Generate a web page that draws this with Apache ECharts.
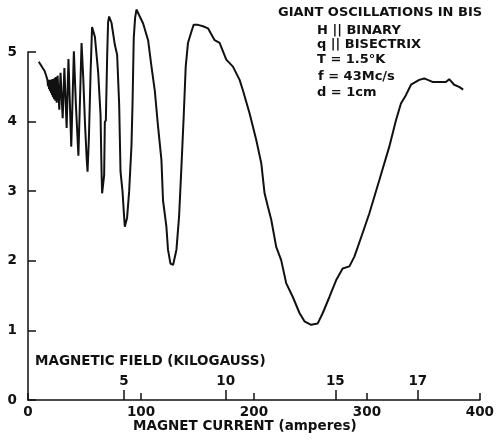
<!DOCTYPE html>
<html>
<head>
<meta charset="utf-8">
<script src="https://cdn.jsdelivr.net/npm/echarts@6/dist/echarts.min.js"></script>
<style>
html,body{margin:0;padding:0;background:#fff;}
#chart{width:497px;height:441px;}
</style>
</head>
<body>
<div id="chart"></div>
<script>
// Magnet current (amperes)
const current = [9.5,11.5,13.0,14.6,15.9,17.2,17.7,18.1,18.6,19.0,19.4,19.9,20.3,20.8,21.2,21.6,22.1,22.5,23.1,23.6,24.2,24.8,25.4,26.2,27.7,28.8,30.7,32.2,34.2,35.8,38.3,40.6,42.4,44.6,45.9,47.4,48.9,50.4,51.9,52.7,53.9,55.4,56.7,59.2,62.1,64.2,65.1,65.6,67.4,68.0,68.9,70.1,70.9,71.8,73.9,76.9,78.9,80.7,81.9,83.7,84.8,85.7,87.7,89.5,91.6,92.5,93.6,94.8,96.0,97.6,101.9,106.3,109.3,112.2,115.1,118.1,119.5,122.5,123.9,126.1,128.4,131.4,133.7,135.8,137.8,139.6,141.6,144.6,146.6,150.4,154.9,159.3,165.2,169.6,175.5,181.4,187.3,190.2,196.1,202.0,206.5,209.4,212.3,215.3,219.7,224.1,228.5,234.4,240.3,244.7,250.6,256.5,260.9,266.8,272.7,278.5,284.5,288.9,296.2,302.1,311.0,319.8,325.7,330.1,334.5,339.0,346.3,350.7,358.0,364.0,369.9,372.8,377.2,381.6,385.2];
// Signal (arbitrary units)
const signal = [4.86,4.81,4.77,4.73,4.67,4.60,4.51,4.60,4.47,4.58,4.44,4.60,4.41,4.60,4.38,4.61,4.35,4.61,4.32,4.63,4.30,4.64,4.27,4.66,4.17,4.70,4.05,4.77,3.91,4.90,3.64,5.01,4.24,3.51,4.24,5.13,4.63,3.99,3.48,3.28,3.76,4.71,5.36,5.22,4.71,4.10,3.28,2.97,3.23,3.99,4.02,4.96,5.43,5.51,5.42,5.10,4.96,4.24,3.28,2.99,2.70,2.49,2.62,2.99,3.66,4.24,5.20,5.49,5.61,5.59,5.41,5.17,4.79,4.45,3.93,3.45,2.87,2.49,2.16,1.96,1.94,2.16,2.63,3.35,4.07,4.79,5.13,5.29,5.39,5.39,5.37,5.34,5.17,5.13,4.89,4.79,4.60,4.45,4.12,3.74,3.40,2.97,2.78,2.59,2.20,2.01,1.68,1.48,1.25,1.13,1.08,1.10,1.25,1.48,1.72,1.89,1.92,2.06,2.40,2.68,3.16,3.64,4.02,4.26,4.38,4.53,4.60,4.62,4.57,4.57,4.57,4.61,4.53,4.50,4.46];
// Magnetic field scale (kilogauss) and where its ticks fall on the current axis
const fieldLabels = ['5','10','15','17'];
const fieldCurrent = [85,175,272,345];
const yTicks = [0,1,2,3,4,5];
const xTicks = [0,100,200,300,400];

const FONT = 'DejaVu Sans';
const INK = '#111';

const chart = echarts.init(document.getElementById('chart'), null, {renderer:'canvas'});
const data = current.map((c,i)=>[c, signal[i]]);

chart.setOption({
  animation:false,
  backgroundColor:'#fff',
  grid:{left:28, right:16.3, top:52, bottom:41, containLabel:false},
  xAxis:[{
    type:'value', min:xTicks[0], max:xTicks[xTicks.length-1], interval:100, position:'bottom',
    axisLine:{show:true, onZero:false, lineStyle:{color:INK, width:1.5}},
    axisTick:{show:true, inside:true, length:7, lineStyle:{color:INK, width:1.5}},
    axisLabel:{show:true, margin:5, color:INK, fontFamily:FONT, fontWeight:'bold', fontSize:13.5},
    splitLine:{show:false}
  },{
    type:'value', min:0, max:400, position:'bottom', gridIndex:0,
    axisLine:{show:false},
    axisTick:{show:true, inside:true, length:10, customValues:fieldCurrent, lineStyle:{color:INK, width:1.5}},
    axisLabel:{show:true, inside:true, margin:12, customValues:fieldCurrent, color:INK, fontFamily:FONT, fontWeight:'bold', fontSize:13.5,
      formatter:function(v){const i=fieldCurrent.indexOf(v); return i>=0?fieldLabels[i]:'';}},
    splitLine:{show:false}
  }],
  yAxis:{
    type:'value', min:yTicks[0], max:yTicks[yTicks.length-1], interval:1,
    axisLine:{show:true, lineStyle:{color:INK, width:1.5}},
    axisTick:{show:true, inside:true, length:8, lineStyle:{color:INK, width:1.5}},
    axisLabel:{show:true, margin:11, color:INK, fontFamily:FONT, fontWeight:'bold', fontSize:13.5},
    splitLine:{show:false}
  },
  graphic:[
    {type:'text', left:278, top:6, style:{text:'GIANT OSCILLATIONS IN BIS', font:'bold 13px "DejaVu Sans"', fill:INK}},
    {type:'text', left:317, top:24, style:{text:'H || BINARY', font:'bold 13px "DejaVu Sans"', fill:INK}},
    {type:'text', left:317, top:38, style:{text:'q || BISECTRIX', font:'bold 13px "DejaVu Sans"', fill:INK}},
    {type:'text', left:317, top:53, style:{text:'T = 1.5°K', font:'bold 13px "DejaVu Sans"', fill:INK}},
    {type:'text', left:318, top:70, style:{text:'f = 43Mc/s', font:'bold 13px "DejaVu Sans"', fill:INK}},
    {type:'text', left:317, top:86, style:{text:'d = 1cm', font:'bold 13px "DejaVu Sans"', fill:INK}},
    {type:'text', left:35, top:354, style:{text:'MAGNETIC FIELD (KILOGAUSS)', font:'bold 13.5px "DejaVu Sans"', fill:INK}},
    {type:'text', left:133, top:419, style:{text:'MAGNET CURRENT (amperes)', font:'bold 13.5px "DejaVu Sans"', fill:INK}}
  ],
  series:[{
    type:'line', xAxisIndex:0, yAxisIndex:0, data:data, showSymbol:false, symbol:'none',
    clip:false, smooth:false,
    lineStyle:{color:INK, width:2}
  }]
});
</script>
</body>
</html>
